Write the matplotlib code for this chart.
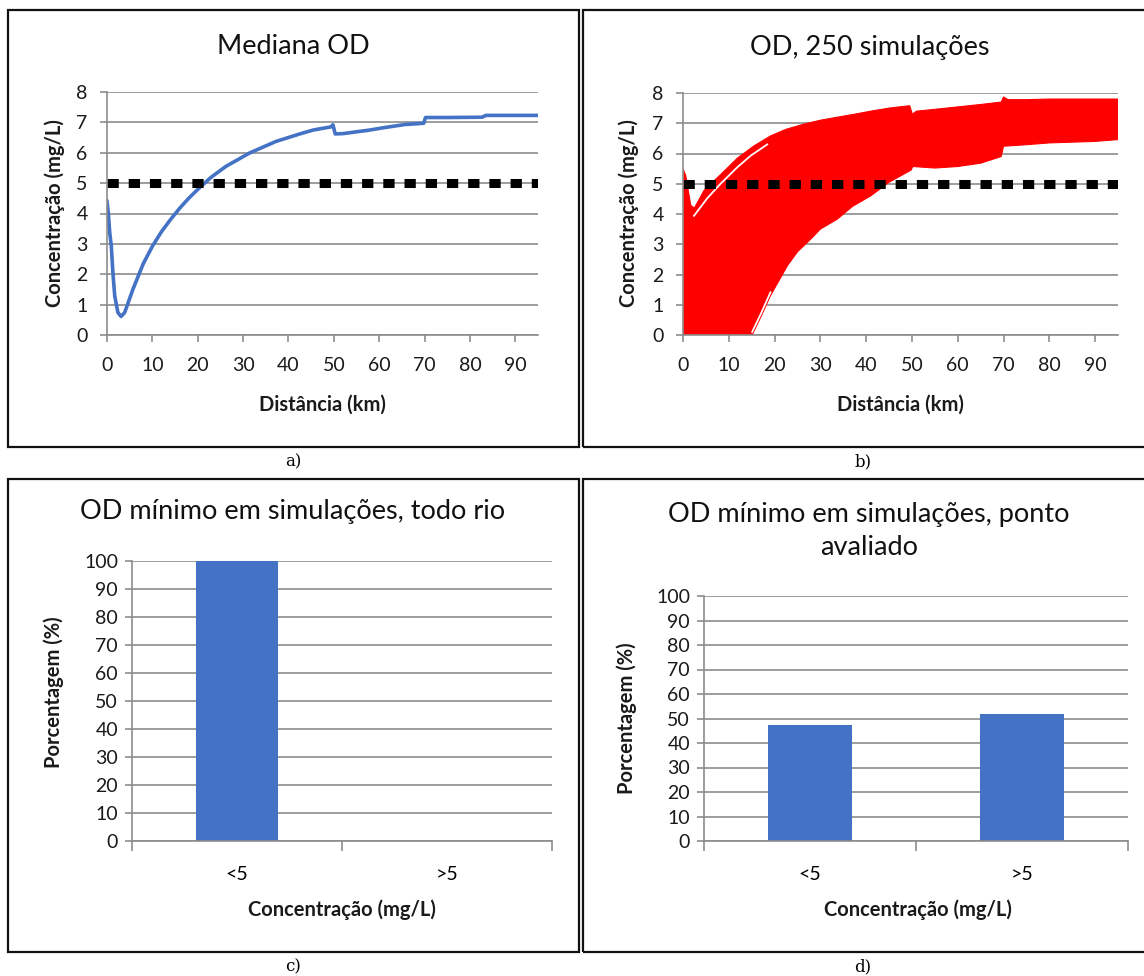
import numpy as np
import matplotlib
matplotlib.use('Agg')
import matplotlib.pyplot as plt
from matplotlib.patches import Rectangle

plt.rcParams['font.family'] = ['Lato', 'DejaVu Sans']

# Mediana OD (painel a)
med_km = [0, 0.3, 0.6, 0.95, 1.3, 1.7, 2.4, 3.1, 3.9, 5.7, 8, 10, 12, 14, 16, 18, 20.4, 23, 26.2,
          31.4, 37.2, 42.5, 45.5, 49.3, 49.8, 50.3, 52, 55, 57.6, 60.8, 63, 65.7, 69.8, 70.2, 75,
          82.7, 83.5, 95]
med_od = [4.4, 4.0, 3.37, 2.93, 2.05, 1.29, 0.74, 0.61, 0.74, 1.5, 2.35, 2.92, 3.4, 3.8, 4.17, 4.5,
          4.85, 5.2, 5.55, 5.99, 6.37, 6.62, 6.75, 6.85, 6.92, 6.62, 6.63, 6.69, 6.74, 6.82, 6.87,
          6.93, 6.97, 7.16, 7.16, 7.17, 7.23, 7.23]

# envelope das 250 simulacoes (painel b)
sup_km = [0, 0.6, 1.7, 2.5, 4.6, 8.2, 11.9, 15.5, 19.1, 22.5, 26.4, 30, 33.7, 37.5, 41, 45,
          49.5, 50.1, 51, 55, 60, 65, 69.5, 70, 71, 75, 80, 95]
sup_od = [5.49, 5.27, 4.28, 4.2, 4.78, 5.3, 5.85, 6.25, 6.58, 6.8, 6.97, 7.1, 7.2, 7.3, 7.4, 7.5,
          7.58, 7.3, 7.4, 7.46, 7.54, 7.62, 7.7, 7.87, 7.78, 7.78, 7.8, 7.8]
inf_km = [0, 15.1, 17, 19.1, 22.8, 25, 27.9, 30, 33.7, 37, 41, 45, 49.8, 50.2, 55, 60, 65,
          69.5, 70, 75, 80, 90, 95]
inf_od = [0, 0, 0.6, 1.3, 2.29, 2.75, 3.17, 3.5, 3.83, 4.25, 4.6, 5.05, 5.45, 5.57, 5.52, 5.57, 5.68,
          5.9, 6.24, 6.29, 6.35, 6.4, 6.46]
# falhas brancas entre curvas
gap1_km = [2.4, 5.3, 8.2, 11.9, 14.8, 18.4]
gap1_od = [3.94, 4.52, 5.0, 5.55, 5.93, 6.3]
gap2_km = [15.1, 17, 19.1]
gap2_od = [0.1, 0.7, 1.41]

limite_km = [0, 95]
limite_od = [5, 5]

classes = ['<5', '>5']
pct_rio = [100, 0]
pct_ponto = [47.5, 52]

W, H = 1144, 976
fig = plt.figure(figsize=(W / 100, H / 100), dpi=100)

BLUE = '#4472C4'
GRID = '#8c8c8c'


def px_axes(l, t, r, b):
    return fig.add_axes([l / W, 1 - b / H, (r - l) / W, (b - t) / H])


def style(ax):
    ax.grid(axis='y', color=GRID, linewidth=1.2)
    ax.set_axisbelow(True)
    for s in ['top', 'right']:
        ax.spines[s].set_visible(False)
    for s in ['left', 'bottom']:
        ax.spines[s].set_color(GRID)
        ax.spines[s].set_linewidth(1.2)
    ax.tick_params(axis='both', color=GRID, width=1.2, length=5, labelsize=14, labelcolor='#1a1a1a')


def fig_label(ax, x, y, text, rot=0):
    fig.text(x / W, 1 - y / H, text, ha='center', va='center', rotation=rot,
             fontsize=14.5, fontweight='bold', color='#1a1a1a')


def title(x, y, text):
    fig.text(x / W, 1 - y / H, text, ha='center', va='center', fontsize=19.5, color='#111111',
             linespacing=1.4)


# bordas dos paineis
for (l, t, r, b) in [(8, 10, 579, 447), (583, 10, 1146, 447), (8, 479, 579, 952), (583, 479, 1146, 952)]:
    fig.add_artist(Rectangle((l / W, 1 - b / H), (r - l) / W, (b - t) / H, transform=fig.transFigure,
                             fill=False, edgecolor='#111111', linewidth=1.6))
for x, y, s in [(293, 462, 'a)'), (863, 462, 'b)'), (293, 967, 'c)'), (863, 967, 'd)')]:
    fig.text(x / W, 1 - y / H, s, ha='center', va='center', fontsize=12, family='DejaVu Serif')

# a) mediana
ax = px_axes(107, 92, 538, 335)
style(ax)
ax.plot(med_km, med_od, color=BLUE, linewidth=2.6)
ax.plot(limite_km, limite_od, color='black', linewidth=6.5, linestyle=(0, (1.25, 1.1)),
        dash_capstyle='butt')
ax.set_xlim(0, 95)
ax.set_ylim(0, 8)
ax.set_xticks(range(0, 91, 10))
ax.set_yticks(range(0, 9))
ax.tick_params(axis='x', pad=11)
ax.tick_params(axis='y', pad=9)
title(293, 46, 'Mediana OD')
fig_label(ax, 322, 405, 'Distância (km)')
fig_label(ax, 55, 213, 'Concentração (mg/L)', rot=90)

# b) simulacoes
ax = px_axes(683, 93, 1118, 335)
style(ax)
ax.fill(sup_km + inf_km[::-1], sup_od + inf_od[::-1], color='#ff0000', linewidth=0.8)
ax.plot(gap1_km, gap1_od, color='white', linewidth=1.3)
ax.plot(gap2_km, gap2_od, color='white', linewidth=1.3)
ax.plot(limite_km, limite_od, color='black', linewidth=6.5, linestyle=(0, (1.25, 1.1)),
        dash_capstyle='butt')
ax.set_xlim(0, 95)
ax.set_ylim(0, 8)
ax.set_xticks(range(0, 91, 10))
ax.set_yticks(range(0, 9))
ax.tick_params(axis='x', pad=11)
ax.tick_params(axis='y', pad=9)
title(870, 48, 'OD, 250 simulações')
fig_label(ax, 900, 405, 'Distância (km)')
fig_label(ax, 629, 213, 'Concentração (mg/L)', rot=90)

# c) todo rio
ax = px_axes(132, 561, 552, 841)
style(ax)
ax.bar(range(len(classes)), pct_rio, width=0.395, color=BLUE)
ax.set_xlim(-0.5, 1.5)
ax.set_ylim(0, 100)
ax.set_yticks(range(0, 101, 10))
ax.set_xticks([-0.5, 0.5, 1.5], minor=False)
ax.set_xticklabels([])
ax.set_xticks([0, 1], minor=True)
ax.set_xticklabels(classes, minor=True)
ax.tick_params(axis='x', which='minor', length=0, pad=18, labelsize=14)
ax.tick_params(axis='x', which='major', length=7)
ax.tick_params(axis='y', pad=5)
title(293, 512, 'OD mínimo em simulações, todo rio')
fig_label(ax, 342, 910, 'Concentração (mg/L)')
fig_label(ax, 54, 692, 'Porcentagem (%)', rot=90)

# d) ponto avaliado
ax = px_axes(704, 596, 1128, 841)
style(ax)
ax.bar(range(len(classes)), pct_ponto, width=0.395, color=BLUE)
ax.set_xlim(-0.5, 1.5)
ax.set_ylim(0, 100)
ax.set_yticks(range(0, 101, 10))
ax.set_xticks([-0.5, 0.5, 1.5], minor=False)
ax.set_xticklabels([])
ax.set_xticks([0, 1], minor=True)
ax.set_xticklabels(classes, minor=True)
ax.tick_params(axis='x', which='minor', length=0, pad=18, labelsize=14)
ax.tick_params(axis='x', which='major', length=7)
ax.tick_params(axis='y', pad=5)
title(869, 531, 'OD mínimo em simulações, ponto\navaliado')
fig_label(ax, 918, 910, 'Concentração (mg/L)')
fig_label(ax, 627, 718, 'Porcentagem (%)', rot=90)

fig.savefig('out.png', dpi=100)
